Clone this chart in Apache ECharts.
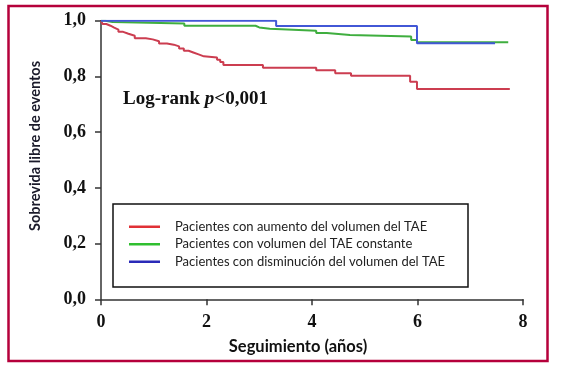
<!DOCTYPE html>
<html><head><meta charset="utf-8">
<script src="https://cdn.jsdelivr.net/npm/echarts@6/dist/echarts.min.js"></script>
<style>html,body{margin:0;padding:0;background:#fff}#c{width:563px;height:369px}</style>
</head><body><div id="c"></div>
<script>
// Data (Kaplan-Meier steps: [years, survival])
var seriesNames = [
  'Pacientes con aumento del volumen del TAE',
  'Pacientes con volumen del TAE constante',
  'Pacientes con disminución del volumen del TAE'
];
var redData = [[0,1.0],[0.03,0.988],[0.1,0.982],[0.18,0.975],[0.25,0.968],[0.33,0.96],[0.42,0.953],[0.52,0.946],[0.64,0.937],[0.85,0.933],[0.98,0.926],[1.1,0.918],[1.25,0.914],[1.38,0.908],[1.48,0.9],[1.57,0.892],[1.66,0.886],[1.75,0.879],[1.85,0.872],[1.95,0.868],[2.2,0.86],[2.26,0.852],[2.32,0.841],[3.07,0.831],[4.08,0.822],[4.44,0.811],[4.74,0.802],[5.86,0.781],[5.99,0.755],[7.75,0.755]];
var greenData = [[0,1.0],[0.08,0.995],[0.22,0.99],[1.58,0.982],[2.93,0.976],[3.0,0.971],[3.2,0.964],[4.08,0.956],[4.28,0.949],[4.72,0.943],[5.88,0.931],[5.99,0.923],[7.72,0.923]];
var blueData = [[0,1.0],[3.32,0.981],[5.99,0.919],[7.47,0.919]];
var xTicks = [0,2,4,6,8];
var yTicks = [0,0.2,0.4,0.6,0.8,1.0];

var chart = echarts.init(document.getElementById('c'), null, {renderer:'canvas'});
var lineColors = ['#cc3d50','#3fae3f','#4257d6'];
var legendColors = ['#e03036','#2fbf2f','#2a2ab8'];
var axisColor = '#333';
var tickFont = {fontFamily:'Liberation Serif', fontWeight:'bold', fontSize:18, color:'#111'};
function mk(name, data, color){
  return {name:name, type:'line', step:'end', data:data, symbol:'none', showSymbol:false,
    lineStyle:{color:color, width:2}, itemStyle:{color:color}, animation:false, z:3};
}
chart.setOption({
  animation:false,
  backgroundColor:'#fff',
  grid:{left:101, right:40, top:20.7, bottom:69.7, containLabel:false},
  xAxis:{type:'value', min:0, max:8, interval:2,
    axisLine:{show:true, lineStyle:{color:axisColor, width:1.5}},
    axisTick:{show:true, length:6, lineStyle:{color:axisColor, width:1.5}},
    splitLine:{show:false},
    axisLabel:Object.assign({margin:14, formatter:function(v){return xTicks.indexOf(v)>=0?String(v):'';}}, tickFont)
  },
  yAxis:{type:'value', min:0, max:1, interval:0.2,
    axisLine:{show:true, lineStyle:{color:axisColor, width:1.5}},
    axisTick:{show:true, length:6, lineStyle:{color:axisColor, width:1.5}},
    splitLine:{show:false},
    axisLabel:Object.assign({margin:15, formatter:function(v){return v.toFixed(1).replace('.',',');}}, tickFont)
  },
  legend:{show:true, orient:'vertical', left:129, top:218, padding:0, itemGap:0,
    itemWidth:31, itemHeight:2.5, icon:'rect',
    textStyle:{fontFamily:'Lato', fontSize:13, color:'#222', lineHeight:17.5, padding:[0,0,0,10]},
    data:seriesNames.map(function(n,i){return {name:n, icon:'rect', itemStyle:{color:legendColors[i]}};})
  },
  series:[mk(seriesNames[0], redData, lineColors[0]), mk(seriesNames[1], greenData, lineColors[1]), mk(seriesNames[2], blueData, lineColors[2])],
  graphic:[
    {type:'rect', shape:{x:8.5, y:6, width:539, height:355}, style:{fill:'none', stroke:'#b5003b', lineWidth:2.5}, z:10},
    {type:'rect', shape:{x:113, y:204, width:355, height:83}, style:{fill:'none', stroke:'#111', lineWidth:1.5}, z:10},
    {type:'text', left:123, top:90, style:{text:'{a|Log-rank }{b|p}{a|<0,001}', rich:{
      a:{fontFamily:'Liberation Serif', fontWeight:'bold', fontSize:19, fill:'#111'},
      b:{fontFamily:'Liberation Serif', fontWeight:'bold', fontStyle:'italic', fontSize:19, fill:'#111'}}}, z:10},
    {type:'text', x:35, y:146, rotation:Math.PI/2, style:{text:'Sobrevida libre de eventos', fontFamily:'Lato', fontWeight:'bold', fontSize:14.5, fill:'#1a1a2a', align:'center', verticalAlign:'middle'}, z:10},
    {type:'text', x:298, y:347, style:{text:'Seguimiento (años)', fontFamily:'Lato', fontWeight:'bold', fontSize:16.5, fill:'#111', align:'center', verticalAlign:'middle'}, z:10}
  ]
});
</script></body></html>
